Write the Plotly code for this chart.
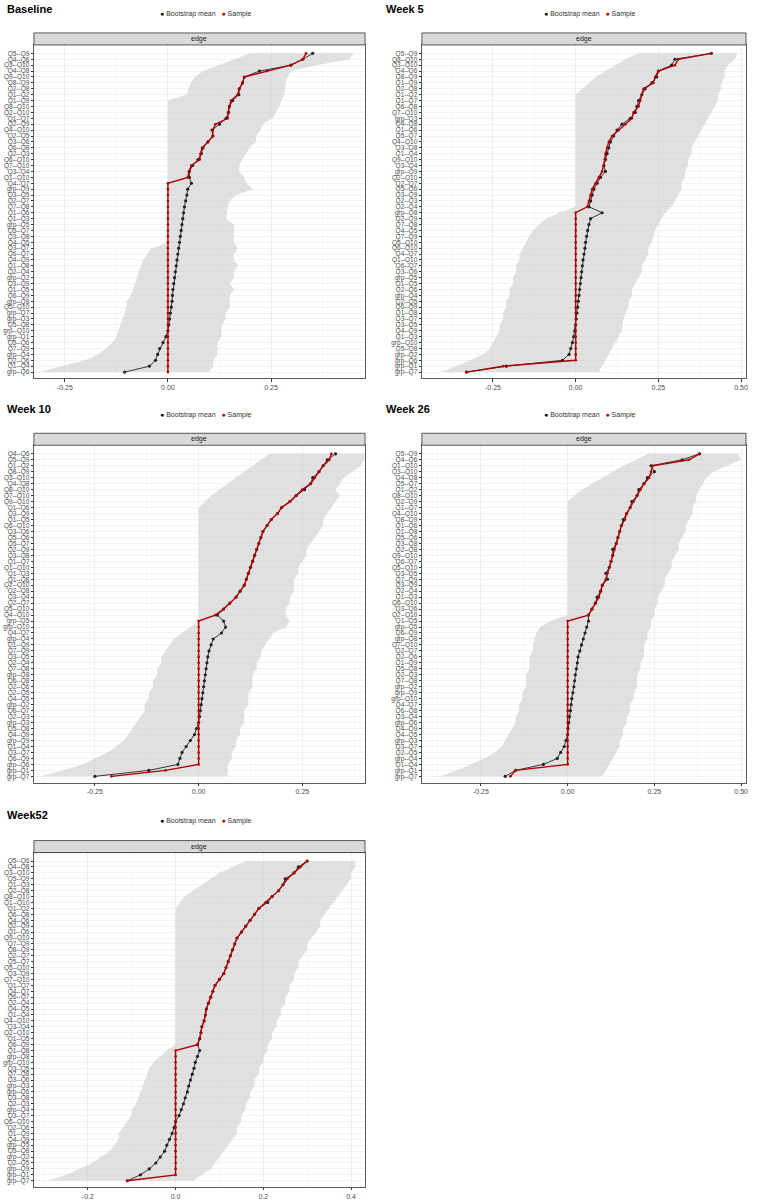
import plotly.graph_objects as go

# ---------------- data ----------------
baseline_edges = ["Q5--Q9","Q4--Q6","Q3--Q10","Q4--Q8","Q9--Q10","Q8--Q9","Q2--Q8","Q1--Q2","Q1--Q9","Q8--Q10",
                  "Q2--Q10","Q1--Q7","Q2--Q9","Q4--Q10","Q2--Q5","Q3--Q6","Q6--Q8","Q2--Q3","Q6--Q10","Q7--Q10",
                  "Q3--Q4","Q1--Q10","Q4--Q7","grp--Q9","Q3--Q5","Q2--Q7","Q7--Q8","Q1--Q6","Q1--Q3","grp--Q5",
                  "Q5--Q7","Q3--Q8","Q4--Q5","Q3--Q7","Q6--Q7","Q4--Q9","Q1--Q8","Q2--Q4","grp--Q2","Q3--Q9",
                  "Q1--Q5","Q6--Q9","grp--Q8","Q5--Q10","grp--Q7","grp--Q3","Q5--Q8","grp--Q10","grp--Q1","Q5--Q6",
                  "Q7--Q9","grp--Q4","Q2--Q6","Q1--Q4","grp--Q6"]
baseline_sample = [0.335,0.327,0.298,0.24,0.185,0.181,0.173,0.169,0.153,0.149,
                   0.146,0.145,0.115,0.109,0.109,0.097,0.083,0.079,0.077,0.057,
                   0.051,0.048,0,0,0,0,0,0,0,0,
                   0,0,0,0,0,0,0,0,0,0,
                   0,0,0,0,0,0,0,0,0,0,
                   0,0,0,0,0]
baseline_mean = [0.351,0.327,0.298,0.222,0.185,0.181,0.173,0.172,0.157,0.149,
                 0.147,0.141,0.125,0.107,0.109,0.097,0.085,0.081,0.073,0.060,
                 0.052,0.052,0.057,0.048,0.046,0.043,0.040,0.038,0.036,0.034,
                 0.032,0.030,0.028,0.026,0.024,0.022,0.020,0.018,0.016,0.014,
                 0.012,0.011,0.010,0.008,0.006,0.004,0.002,0.0,-0.005,-0.012,
                 -0.02,-0.025,-0.03,-0.045,-0.105]
baseline_lower = [0.20,0.16,0.12,0.085,0.065,0.055,0.05,0.045,0,0,
                  0,0,0,0,0,0,0,0,0,0,
                  0,0,0,0,0,0,0,0,0,0,
                  0,0,0,-0.04,-0.05,-0.06,-0.065,-0.07,-0.075,-0.08,
                  -0.085,-0.09,-0.1,-0.1,-0.105,-0.11,-0.115,-0.12,-0.125,-0.135,
                  -0.15,-0.17,-0.2,-0.26,-0.31]
baseline_upper = [0.451,0.44,0.36,0.30,0.29,0.286,0.284,0.282,0.275,0.27,
                  0.262,0.254,0.23,0.225,0.214,0.214,0.198,0.19,0.18,0.173,
                  0.173,0.185,0.19,0.206,0.165,0.149,0.145,0.143,0.141,0.16,
                  0.16,0.16,0.16,0.17,0.16,0.16,0.17,0.16,0.16,0.15,
                  0.16,0.15,0.15,0.15,0.14,0.14,0.13,0.13,0.13,0.12,
                  0.12,0.12,0.11,0.11,0.10]

week5_edges = ["Q5--Q9","Q8--Q10","Q3--Q10","Q4--Q6","Q8--Q9","Q1--Q9","Q2--Q8","Q1--Q2","Q1--Q7","Q6--Q8",
               "Q7--Q10","grp--Q3","Q4--Q8","Q1--Q6","Q5--Q7","Q4--Q10","Q3--Q8","Q1--Q4","Q9--Q10","Q3--Q4",
               "grp--Q9","Q2--Q10","Q2--Q7","Q5--Q6","Q3--Q9","Q2--Q3","Q2--Q4","grp--Q8","Q2--Q9","Q7--Q8",
               "Q4--Q5","Q7--Q9","Q5--Q10","Q6--Q10","Q4--Q7","Q1--Q10","Q6--Q7","Q3--Q6","grp--Q5","Q1--Q5",
               "Q2--Q6","grp--Q4","Q2--Q5","Q6--Q9","Q1--Q8","Q3--Q7","Q3--Q5","Q4--Q9","Q1--Q3","grp--Q10",
               "Q5--Q8","grp--Q2","grp--Q6","grp--Q1","grp--Q7"]
week5_sample = [0.41,0.31,0.30,0.25,0.24,0.235,0.205,0.20,0.195,0.19,
                0.175,0.17,0.15,0.13,0.11,0.10,0.095,0.09,0.088,0.085,
                0.08,0.07,0.06,0.05,0.045,0.04,0.035,0,0,0,
                0,0,0,0,0,0,0,0,0,0,
                0,0,0,0,0,0,0,0,0,0,
                0,0,0,-0.22,-0.33]
week5_mean = [0.41,0.30,0.29,0.25,0.245,0.23,0.21,0.20,0.19,0.185,
              0.18,0.165,0.14,0.125,0.115,0.105,0.10,0.095,0.09,0.085,
              0.09,0.075,0.065,0.055,0.05,0.045,0.04,0.08,0.045,0.04,
              0.036,0.033,0.03,0.028,0.025,0.022,0.02,0.018,0.016,0.014,
              0.012,0.01,0.008,0.006,0.004,0.002,0.0,-0.003,-0.006,-0.01,
              -0.015,-0.02,-0.04,-0.21,-0.33]
week5_lower = [0.19,0.15,0.12,0.09,0.06,0.04,0.02,0,0,0,
               0,0,0,0,0,0,0,0,0,0,
               0,0,0,0,0,0,0,-0.05,-0.09,-0.11,
               -0.13,-0.14,-0.15,-0.16,-0.17,-0.17,-0.18,-0.18,-0.19,-0.19,
               -0.2,-0.2,-0.21,-0.21,-0.22,-0.22,-0.23,-0.23,-0.24,-0.25,
               -0.26,-0.28,-0.32,-0.36,-0.41]
week5_upper = [0.49,0.48,0.46,0.45,0.45,0.44,0.44,0.43,0.43,0.42,
               0.41,0.40,0.39,0.38,0.37,0.36,0.35,0.35,0.34,0.34,
               0.33,0.33,0.32,0.32,0.31,0.30,0.29,0.27,0.26,0.25,
               0.24,0.235,0.23,0.22,0.22,0.21,0.20,0.20,0.19,0.18,
               0.17,0.17,0.16,0.16,0.15,0.145,0.14,0.14,0.13,0.12,
               0.11,0.10,0.09,0.08,0.07]

week10_edges = ["Q4--Q6","Q5--Q9","Q1--Q2","Q8--Q9","Q3--Q10","Q4--Q8","Q8--Q10","Q7--Q10","Q9--Q10","Q1--Q6",
                "Q3--Q9","Q1--Q5","Q6--Q10","Q3--Q6","Q5--Q6","Q5--Q7","Q2--Q9","Q3--Q8","Q1--Q7","Q1--Q10",
                "Q1--Q3","Q1--Q8","Q2--Q10","Q2--Q8","Q3--Q4","Q2--Q7","Q5--Q10","Q4--Q10","grp--Q5","grp--Q10",
                "Q4--Q7","grp--Q4","Q1--Q9","Q7--Q9","Q3--Q5","Q2--Q4","Q7--Q8","grp--Q8","Q6--Q8","Q2--Q6",
                "Q2--Q5","Q4--Q5","grp--Q2","Q6--Q7","Q2--Q3","grp--Q3","Q5--Q8","Q4--Q9","grp--Q9","Q1--Q4",
                "Q3--Q7","Q6--Q9","grp--Q6","grp--Q1","grp--Q7"]
week10_sample = [0.32,0.315,0.30,0.29,0.28,0.27,0.25,0.235,0.22,0.20,
                 0.19,0.175,0.165,0.155,0.15,0.145,0.14,0.135,0.13,0.125,
                 0.12,0.115,0.11,0.10,0.09,0.075,0.06,0.04,0,0,
                 0,0,0,0,0,0,0,0,0,0,
                 0,0,0,0,0,0,0,0,0,0,
                 0,0,0,-0.08,-0.21]
week10_mean = [0.33,0.31,0.30,0.29,0.275,0.27,0.255,0.235,0.22,0.20,
               0.19,0.175,0.165,0.155,0.15,0.145,0.14,0.135,0.13,0.125,
               0.12,0.115,0.11,0.10,0.09,0.075,0.06,0.045,0.06,0.065,
               0.055,0.035,0.03,0.025,0.022,0.02,0.018,0.016,0.014,0.012,
               0.01,0.008,0.006,0.004,0.002,0.0,-0.005,-0.01,-0.02,-0.03,
               -0.04,-0.045,-0.05,-0.12,-0.25]
week10_lower = [0.17,0.15,0.13,0.11,0.09,0.07,0.05,0.03,0.015,0,
                0,0,0,0,0,0,0,0,0,0,
                0,0,0,0,0,0,0,0,0,-0.02,
                -0.04,-0.06,-0.07,-0.08,-0.09,-0.09,-0.1,-0.1,-0.11,-0.11,
                -0.12,-0.12,-0.13,-0.13,-0.14,-0.15,-0.16,-0.17,-0.18,-0.2,
                -0.22,-0.25,-0.28,-0.33,-0.38]
week10_upper = [0.40,0.40,0.39,0.37,0.35,0.34,0.33,0.34,0.33,0.32,
                0.31,0.30,0.30,0.29,0.28,0.27,0.26,0.26,0.25,0.24,
                0.24,0.23,0.23,0.23,0.22,0.22,0.21,0.21,0.22,0.21,
                0.18,0.17,0.16,0.15,0.15,0.14,0.14,0.13,0.13,0.13,
                0.12,0.12,0.12,0.11,0.11,0.11,0.10,0.10,0.09,0.09,
                0.08,0.08,0.07,0.07,0.07]

week26_edges = ["Q5--Q9","Q4--Q6","Q1--Q10","Q3--Q10","Q4--Q8","Q5--Q7","Q1--Q2","Q8--Q10","Q2--Q9","Q1--Q7",
                "Q4--Q10","Q8--Q9","Q1--Q6","Q1--Q8","Q5--Q6","Q3--Q8","Q2--Q8","Q9--Q10","Q6--Q7","Q5--Q10",
                "Q3--Q5","Q7--Q9","Q3--Q9","Q2--Q4","Q1--Q3","Q6--Q10","Q3--Q6","Q2--Q10","Q1--Q5","grp--Q5",
                "Q6--Q9","grp--Q8","Q7--Q10","Q2--Q7","Q2--Q6","Q1--Q9","Q5--Q8","Q2--Q3","Q7--Q8","grp--Q2",
                "grp--Q9","grp--Q10","Q4--Q7","Q6--Q8","Q3--Q4","grp--Q6","Q4--Q9","Q4--Q5","grp--Q3","Q3--Q7",
                "Q2--Q5","grp--Q4","Q1--Q4","grp--Q1","grp--Q7"]
week26_sample = [0.38,0.35,0.245,0.24,0.235,0.22,0.21,0.20,0.19,0.18,
                 0.17,0.165,0.155,0.15,0.145,0.14,0.135,0.13,0.125,0.12,
                 0.115,0.11,0.10,0.095,0.09,0.08,0.07,0.06,0,0,
                 0,0,0,0,0,0,0,0,0,0,
                 0,0,0,0,0,0,0,0,0,0,
                 0,0,0,-0.15,-0.165]
week26_mean = [0.38,0.33,0.24,0.25,0.23,0.22,0.205,0.20,0.185,0.18,
               0.17,0.16,0.155,0.15,0.145,0.14,0.13,0.13,0.125,0.12,
               0.11,0.115,0.10,0.095,0.085,0.08,0.07,0.06,0.06,0.055,
               0.05,0.045,0.04,0.035,0.03,0.028,0.025,0.022,0.02,0.018,
               0.015,0.012,0.01,0.008,0.005,0.003,0.001,0.0,-0.005,-0.01,
               -0.02,-0.03,-0.07,-0.15,-0.18]
week26_lower = [0.23,0.2,0.16,0.13,0.1,0.07,0.04,0.02,0,0,
                0,0,0,0,0,0,0,0,0,0,
                0,0,0,0,0,0,0,0,-0.05,-0.08,
                -0.09,-0.095,-0.1,-0.1,-0.11,-0.11,-0.11,-0.12,-0.12,-0.12,
                -0.13,-0.13,-0.14,-0.14,-0.15,-0.15,-0.16,-0.17,-0.18,-0.19,
                -0.21,-0.24,-0.28,-0.32,-0.37]
week26_upper = [0.49,0.50,0.46,0.42,0.40,0.39,0.38,0.37,0.37,0.36,
                0.36,0.35,0.34,0.34,0.33,0.32,0.32,0.31,0.30,0.30,
                0.29,0.28,0.28,0.27,0.26,0.26,0.25,0.25,0.24,0.24,
                0.23,0.23,0.22,0.22,0.22,0.21,0.21,0.20,0.20,0.20,
                0.19,0.19,0.18,0.18,0.17,0.17,0.16,0.16,0.15,0.15,
                0.14,0.13,0.12,0.11,0.10]

week52_edges = ["Q5--Q6","Q4--Q8","Q3--Q10","Q5--Q9","Q1--Q3","Q2--Q8","Q8--Q10","Q1--Q10","Q1--Q2","Q6--Q8",
                "Q4--Q6","Q2--Q9","Q1--Q6","Q9--Q10","Q7--Q9","Q8--Q9","Q2--Q7","Q5--Q7","Q5--Q10","Q3--Q9",
                "Q7--Q10","Q1--Q7","Q4--Q7","Q6--Q7","Q2--Q4","Q4--Q5","Q1--Q4","Q4--Q10","Q3--Q4","Q2--Q10",
                "Q1--Q5","Q6--Q9","Q1--Q8","grp--Q8","grp--Q10","Q3--Q5","Q7--Q8","Q3--Q6","grp--Q3","grp--Q6",
                "Q3--Q8","Q2--Q3","grp--Q4","Q3--Q7","Q6--Q10","Q2--Q6","Q1--Q9","Q4--Q9","grp--Q5","Q5--Q8",
                "grp--Q2","Q2--Q5","grp--Q9","grp--Q1","grp--Q7"]
week52_sample = [0.30,0.285,0.27,0.255,0.245,0.235,0.22,0.205,0.19,0.18,
                 0.17,0.16,0.15,0.14,0.135,0.13,0.125,0.12,0.115,0.11,
                 0.10,0.09,0.085,0.08,0.075,0.07,0.068,0.065,0.06,0.058,
                 0.055,0.05,0,0,0,0,0,0,0,0,
                 0,0,0,0,0,0,0,0,0,0,
                 0,0,0,0,-0.11]
week52_mean = [0.30,0.28,0.27,0.25,0.245,0.235,0.22,0.21,0.19,0.18,
               0.17,0.16,0.15,0.14,0.135,0.13,0.125,0.12,0.115,0.11,
               0.10,0.09,0.085,0.08,0.075,0.07,0.068,0.065,0.06,0.058,
               0.055,0.05,0.055,0.05,0.045,0.042,0.038,0.034,0.03,0.027,
               0.022,0.018,0.013,0.008,0.0,-0.003,-0.008,-0.014,-0.02,-0.025,
               -0.035,-0.045,-0.06,-0.08,-0.11]
week52_lower = [0.16,0.13,0.10,0.08,0.06,0.04,0.02,0.01,0,0,
                0,0,0,0,0,0,0,0,0,0,
                0,0,0,0,0,0,0,0,0,0,
                0,0,-0.02,-0.035,-0.05,-0.06,-0.065,-0.07,-0.075,-0.08,
                -0.085,-0.09,-0.1,-0.1,-0.11,-0.12,-0.13,-0.13,-0.14,-0.15,
                -0.17,-0.19,-0.22,-0.25,-0.29]
week52_upper = [0.41,0.41,0.40,0.40,0.39,0.38,0.37,0.36,0.35,0.34,
                0.33,0.33,0.32,0.31,0.30,0.30,0.29,0.28,0.28,0.27,
                0.27,0.26,0.26,0.25,0.25,0.24,0.24,0.23,0.23,0.22,
                0.22,0.21,0.21,0.2,0.2,0.19,0.19,0.18,0.18,0.17,
                0.17,0.16,0.16,0.15,0.15,0.14,0.14,0.13,0.12,0.11,
                0.10,0.09,0.08,0.06,0.04]

# ---------------- layout helpers ----------------
W, H = 760, 1200
FONT = "Liberation Sans, Arial, sans-serif"
RED = "#b00000"

panels = [
    dict(title="Baseline", edges=baseline_edges, sample=baseline_sample, mean=baseline_mean,
         lower=baseline_lower, upper=baseline_upper, px=(34, 366), py=(45, 379),
         xr=(-0.325, 0.478), ticks=[-0.25, 0, 0.25], ticktext=["-0.25", "0.00", "0.25"],
         minor=[-0.125, 0.125, 0.375], title_xy=(5, 9), leg_y=14),
    dict(title="Week 5", edges=week5_edges, sample=week5_sample, mean=week5_mean,
         lower=week5_lower, upper=week5_upper, px=(423, 748), py=(45, 379),
         xr=(-0.465, 0.515), ticks=[-0.25, 0, 0.25, 0.5], ticktext=["-0.25", "0.00", "0.25", "0.50"],
         minor=[-0.375, -0.125, 0.125, 0.375], title_xy=(385, 9), leg_y=14),
    dict(title="Week 10", edges=week10_edges, sample=week10_sample, mean=week10_mean,
         lower=week10_lower, upper=week10_upper, px=(34, 366), py=(446, 784),
         xr=(-0.397, 0.401), ticks=[-0.25, 0, 0.25], ticktext=["-0.25", "0.00", "0.25"],
         minor=[-0.375, -0.125, 0.125, 0.375], title_xy=(5, 410), leg_y=416),
    dict(title="Week 26", edges=week26_edges, sample=week26_sample, mean=week26_mean,
         lower=week26_lower, upper=week26_upper, px=(423, 748), py=(446, 784),
         xr=(-0.42, 0.514), ticks=[-0.25, 0, 0.25, 0.5], ticktext=["-0.25", "0.00", "0.25", "0.50"],
         minor=[-0.375, -0.125, 0.125, 0.375], title_xy=(385, 410), leg_y=416),
    dict(title="Week52", edges=week52_edges, sample=week52_sample, mean=week52_mean,
         lower=week52_lower, upper=week52_upper, px=(34, 366), py=(854, 1189),
         xr=(-0.323, 0.432), ticks=[-0.2, 0, 0.2, 0.4], ticktext=["-0.2", "0.0", "0.2", "0.4"],
         minor=[-0.3, -0.1, 0.1, 0.3], title_xy=(5, 816), leg_y=822),
]

fig = go.Figure()
layout = dict(width=W, height=H, margin=dict(l=0, r=0, t=0, b=0),
              paper_bgcolor="white", plot_bgcolor="white", showlegend=False,
              font=dict(family=FONT, color="#4d4d4d", size=7))
shapes, annotations = [], []

for i, p in enumerate(panels, start=1):
    xa = "x" if i == 1 else f"x{i}"
    ya = "y" if i == 1 else f"y{i}"
    n = len(p["edges"])
    rows = list(range(1, n + 1))
    fig.add_trace(go.Scatter(x=p["lower"] + p["upper"][::-1], y=rows + rows[::-1],
                             fill="toself", fillcolor="rgba(200,200,200,0.55)",
                             line=dict(width=0), mode="lines", hoverinfo="skip",
                             showlegend=False, xaxis=xa, yaxis=ya))
    fig.add_trace(go.Scatter(x=p["mean"], y=rows, mode="lines+markers", name="Bootstrap mean",
                             line=dict(color="#222222", width=0.9),
                             marker=dict(color="#222222", size=3.2),
                             showlegend=False, xaxis=xa, yaxis=ya))
    fig.add_trace(go.Scatter(x=p["sample"], y=rows, mode="lines+markers", name="Sample",
                             line=dict(color=RED, width=1.4),
                             marker=dict(color=RED, size=2.6),
                             showlegend=False, xaxis=xa, yaxis=ya))

    x0, x1 = p["px"]
    y0, y1 = p["py"]
    layout["xaxis" if i == 1 else f"xaxis{i}"] = dict(
        domain=[x0 / W, x1 / W], range=list(p["xr"]), anchor=ya,
        tickvals=p["ticks"], ticktext=p["ticktext"], ticks="outside", ticklen=2.5,
        tickcolor="#333333", tickfont=dict(size=7, color="#4d4d4d"),
        showgrid=True, gridcolor="#ebebeb", gridwidth=0.8, zeroline=False,
        showline=True, linecolor="#333333", linewidth=0.8, mirror=True,
        minor=dict(tickvals=p["minor"], showgrid=True, gridcolor="#f2f2f2", gridwidth=0.5, ticks=""),
        fixedrange=True)
    layout["yaxis" if i == 1 else f"yaxis{i}"] = dict(
        domain=[1 - y1 / H, 1 - y0 / H], anchor=xa,
        range=[n + 1.06, -0.43], tickvals=rows, ticktext=p["edges"],
        ticks="outside", ticklen=2.5, tickcolor="#333333",
        tickfont=dict(size=6.5, color="#4d4d4d"),
        showgrid=True, gridcolor="#ebebeb", gridwidth=0.6, zeroline=False,
        showline=True, linecolor="#333333", linewidth=0.8, mirror=True, fixedrange=True)
    # facet strip
    shapes.append(dict(type="rect", xref="paper", yref="paper",
                       x0=x0 / W, x1=x1 / W, y0=1 - y0 / H, y1=1 - (y0 - 12) / H,
                       fillcolor="#d9d9d9", line=dict(color="#333333", width=0.8)))
    annotations.append(dict(text="edge", xref="paper", yref="paper",
                            x=(x0 + x1) / 2 / W, y=1 - (y0 - 6) / H, showarrow=False,
                            xanchor="center", yanchor="middle",
                            font=dict(size=7, color="#1a1a1a", family=FONT)))
    # panel title
    annotations.append(dict(text="<b>" + p["title"] + "</b>", xref="paper", yref="paper",
                            x=p["title_xy"][0] / W, y=1 - p["title_xy"][1] / H, showarrow=False,
                            xanchor="left", yanchor="middle",
                            font=dict(size=11, color="black", family=FONT)))
    # legend (key + labels)
    annotations.append(dict(
        text='<span style="color:#000000">●</span> Bootstrap mean   '
             '<span style="color:%s">●</span> Sample' % RED,
        xref="paper", yref="paper", x=(x0 + x1) / 2 / W + 6 / W, y=1 - p["leg_y"] / H,
        showarrow=False, xanchor="center", yanchor="middle",
        font=dict(size=7, color="#333333", family=FONT)))

layout["shapes"] = shapes
layout["annotations"] = annotations
fig.update_layout(**layout)
fig.write_html("out.html", config={"displayModeBar": False, "staticPlot": True},
               post_script="document.body.style.margin='0';")
